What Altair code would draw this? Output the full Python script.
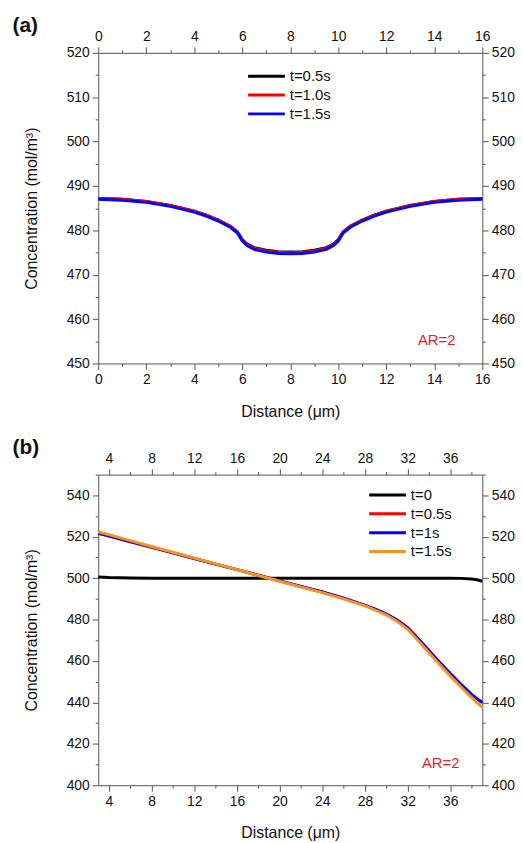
import altair as alt
import pandas as pd

FONT = "Liberation Sans"

# ---------------- Panel (a) data ----------------
a_x = [0, 1, 2, 3, 4, 4.5, 5, 5.5, 5.8, 6.0, 6.2, 6.5, 7, 7.5, 8,
       8.5, 9, 9.5, 9.8, 10.0, 10.2, 10.5, 11, 11.5, 12, 13, 14, 15, 16]
a_t05 = [487.2, 487.0, 486.5, 485.6, 484.3, 483.4, 482.3, 480.9, 479.6, 477.9, 476.9, 476.1, 475.5, 475.2, 475.1,
         475.2, 475.5, 476.1, 476.9, 477.9, 479.6, 480.9, 482.3, 483.4, 484.3, 485.6, 486.5, 487.0, 487.2]
a_t10 = [487.2, 487.0, 486.5, 485.6, 484.3, 483.4, 482.3, 480.9, 479.6, 477.8, 476.8, 475.95, 475.35, 475.05, 474.95,
         475.05, 475.35, 475.95, 476.8, 477.8, 479.6, 480.9, 482.3, 483.4, 484.3, 485.6, 486.5, 487.0, 487.2]
a_t15 = [487.0, 486.8, 486.3, 485.4, 484.1, 483.2, 482.1, 480.7, 479.4, 477.6, 476.6, 475.7, 475.1, 474.8, 474.7,
         474.8, 475.1, 475.7, 476.6, 477.6, 479.4, 480.7, 482.1, 483.2, 484.1, 485.4, 486.3, 486.8, 487.0]
a_series = ["t=0.5s", "t=1.0s", "t=1.5s"]
a_colors = ["#000000", "#ff0000", "#0000ff"]
a_values = [a_t05, a_t10, a_t15]

# ---------------- Panel (b) data ----------------
b_x = [3, 4, 6, 8, 10, 12, 14, 16, 18, 20, 22, 24, 26, 28, 29, 30, 31, 32,
       33, 34, 35, 36, 37, 38, 38.5, 39]
b_t0 = [500.6, 500.3, 500.1, 500.0, 500.0, 500.0, 500.0, 500.0, 500.0, 500.0, 500.0, 500.0, 500.0, 500.0,
        500.0, 500.0, 500.0, 500.0, 500.0, 500.0, 500.0, 500.0, 499.9, 499.6, 499.2, 498.5]
b_t05 = [521.6, 520.3, 517.6, 514.9, 512.2, 509.5, 506.8, 504.1, 501.4, 498.7, 496.0, 493.3, 490.3, 486.9,
         484.9, 482.7, 479.8, 476.1, 470.7, 465.0, 459.4, 453.9, 448.7, 443.9, 441.8, 440.0]
b_t1 = [521.8, 520.5, 517.7, 515.0, 512.3, 509.5, 506.8, 504.1, 501.4, 498.7, 496.0, 493.3, 490.3, 486.9,
        484.9, 482.7, 479.8, 476.0, 470.6, 464.9, 459.3, 453.8, 448.6, 443.8, 441.7, 439.9]
b_t15 = [522.4, 521.0, 518.1, 515.3, 512.5, 509.7, 506.9, 504.1, 501.3, 498.5, 495.8, 493.0, 490.0, 486.6,
         484.5, 482.2, 479.2, 475.3, 469.8, 464.0, 458.3, 452.7, 447.4, 442.3, 439.9, 437.6]
b_series = ["t=0", "t=0.5s", "t=1s", "t=1.5s"]
b_colors = ["#000000", "#ff0000", "#0000ff", "#f7941d"]
b_values = [b_t0, b_t05, b_t1, b_t15]

# annotation
ar_label = ["AR=2"]
a_ar_x, a_ar_y = [14.1], [455.2]
b_ar_x, b_ar_y = [35.1], [410.5]

# tick lists
a_xticks = list(range(0, 17))
a_yticks = list(range(450, 521, 5))
b_xticks = list(range(4, 39, 2))
b_yticks = list(range(400, 551, 10))


def make_axis(orient, values, test, title=None, show_title=True):
    kw = dict(
        orient=orient,
        values=values,
        labelExpr=f"({test}) ? datum.label : ''",
        tickSize={"condition": {"test": test, "value": 6}, "value": 3},
        grid=False,
        labelFlush=False,
        labelOverlap=False,
        labelPadding=3,
        tickWidth=1,
        domainWidth=1,
    )
    kw["title"] = title if show_title else None
    return alt.Axis(**kw)


def long_df(xs, series, values):
    rows = []
    for s, vals in zip(series, values):
        for xv, yv in zip(xs, vals):
            rows.append({"x": xv, "c": yv, "series": s})
    return pd.DataFrame(rows)


def panel(xs, series, colors, values, xdom, ydom, xticks, yticks, xtest, ytest,
          leg_x, leg_y, ar_x, ar_y, label, w, h):
    df = long_df(xs, series, values)
    xscale = alt.Scale(domain=xdom, nice=False, zero=False)
    yscale = alt.Scale(domain=ydom, nice=False, zero=False)
    cscale = alt.Scale(domain=series, range=colors)
    legend = alt.Legend(
        title=None, orient="none", legendX=leg_x, legendY=leg_y,
        symbolType="M-3.7,0H3.7", symbolSize=100, symbolStrokeWidth=3,
        labelFontSize=15, labelFont=FONT, labelColor="#111",
        labelOffset=16, rowPadding=3, padding=0,
    )
    layers = []
    for i, s in enumerate(series):
        if i == 0:
            xa = make_axis("bottom", xticks, xtest, "Distance (\u03bcm)")
            ya = make_axis("left", yticks, ytest, "Concentration (mol/m\u00b3)")
        else:
            xa = None
            ya = None
        layers.append(
            alt.Chart(df[df.series == s]).mark_line(strokeWidth=3).encode(
                x=alt.X("x:Q", scale=xscale, axis=xa),
                y=alt.Y("c:Q", scale=yscale, axis=ya),
                color=alt.Color("series:N", scale=cscale, legend=legend),
            )
        )
    axis_layer = alt.Chart(df[df.series == series[0]]).mark_line(strokeOpacity=0).encode(
        x=alt.X("x:Q", scale=xscale, axis=make_axis("top", xticks, xtest, show_title=False)),
        y=alt.Y("c:Q", scale=yscale, axis=make_axis("right", yticks, ytest, show_title=False)),
    )
    txt = alt.Chart(pd.DataFrame({"x": ar_x, "y": ar_y, "t": ar_label})).mark_text(
        color="#e8202a", fontSize=15, font=FONT
    ).encode(
        x=alt.X("x:Q", scale=xscale, axis=None),
        y=alt.Y("y:Q", scale=yscale, axis=None),
        text="t:N",
    )
    return alt.layer(*layers, axis_layer, txt).resolve_axis(
        x="independent", y="independent"
    ).properties(
        width=w, height=h,
        title=alt.TitleParams(label, anchor="start", fontSize=21, fontWeight="bold",
                              font=FONT, color="#111", dx=-11, dy=6, offset=0),
    )


pa = panel(a_x, a_series, a_colors, a_values, [0, 16], [450, 520], a_xticks, a_yticks,
           "datum.value % 2 === 0", "datum.value % 10 === 0",
           162, 16, a_ar_x, a_ar_y, "(a)", 387, 313)
pb = panel(b_x, b_series, b_colors, b_values, [3, 39], [400, 550], b_xticks, b_yticks,
           "datum.value % 4 === 0", "datum.value % 20 === 0",
           284, 13, b_ar_x, b_ar_y, "(b)", 387, 313)

chart = alt.vconcat(pa, pb, spacing=18).resolve_scale(
    color="independent"
).resolve_legend(color="independent").properties(
    padding={"left": 12, "top": 12, "right": 8, "bottom": 5}
).configure_view(stroke=None).configure_axis(
    labelFont=FONT, titleFont=FONT, labelFontSize=14, titleFontSize=16,
    titleFontWeight="normal", labelColor="#111", titleColor="#111",
    domainColor="#555", tickColor="#555", titlePadding=17,
).configure_axisLeft(titlePadding=27).configure_legend(
    labelFont=FONT
)

chart.save("out.html", embed_options={"renderer": "svg", "actions": False})
